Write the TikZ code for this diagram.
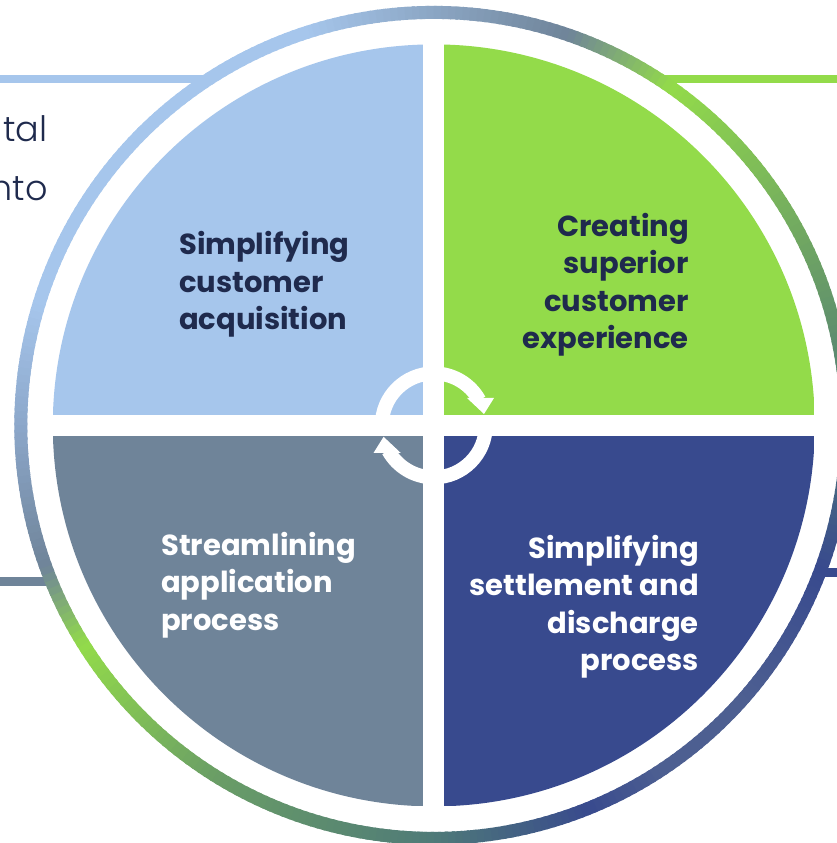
\documentclass[tikz,border=0pt]{standalone}
\usepackage{fontspec}
\setsansfont{Poppins}
\newfontfamily\lightfont{Poppins Light}
\newfontfamily\boldfont{Poppins Bold}
\definecolor{lightblue}{HTML}{A6C6EC}
\definecolor{leaf}{HTML}{93DB4A}
\definecolor{slate}{HTML}{6F8499}
\definecolor{deepblue}{HTML}{384A8E}
\definecolor{ink}{HTML}{1F2A4D}
\definecolor{moss}{HTML}{6A9E66}
\definecolor{teal}{HTML}{4F7A78}
\definecolor{dusk}{HTML}{4D5F91}
\definecolor{haze}{HTML}{8CA7CA}
\tikzset{
    quarterlabel/.style={font=\boldfont\fontsize{29}{37.5}\selectfont,inner sep=0pt},
    sidetext/.style={font=\lightfont\fontsize{35}{40}\selectfont,text=ink,inner sep=0pt},
    turnarrow/.style={white,line width=14pt}
}
\begin{document}
\begin{tikzpicture}[x=1pt,y=1pt]
    \useasboundingbox[clip] (-433.8,-417.6) rectangle (403.2,425.4);
    % rules behind the ring
    \fill[lightblue] (-433.8,342.1) rectangle (-230,350.1);
    \fill[leaf] (230,342.1) rectangle (403.2,350.1);
    \fill[slate] (-433.8,-160.3) rectangle (-385,-152);
    \fill[deepblue] (385,-151.1) rectangle (403.2,-142.6);
    % white round the ring so that the rules stop at it
    \fill[white] (0,0) circle (406.5);
    % ring, colour changes along it
    \foreach \from/\to/\colfrom/\colto in {
        108/71/lightblue/slate,71/55/slate/leaf,55/22/leaf/moss,22/0/moss/teal,
        0/-20/teal/deepblue,-20/-42/deepblue/dusk,-42/-57/dusk/dusk,-57/-68/dusk/deepblue,
        -68/-90/deepblue/teal,-90/-122/teal/moss,-122/-148/moss/leaf,-148/-160/leaf/slate,
        -160/-180/slate/haze,-180/-197/haze/lightblue,-197/-252/lightblue/lightblue}{
        \pgfmathsetmacro\span{\from-\to}
        \foreach \k in {1,...,\span}{
            \pgfmathsetmacro\mix{100*(\k-0.5)/\span}
            \pgfmathsetmacro\start{\from-\k+1}
            \draw[line width=13pt,color=\colto!\mix!\colfrom] (\start:413) arc (\start:\start-1.4:413);
        }
    }
    % quarters
    \begin{scope}
    \clip (0,0) circle (381);
    \fill[lightblue] (-381,10.4) rectangle (-10.5,381);
    \fill[leaf] (10.2,10.4) rectangle (381,381);
    \fill[slate] (-381,-10.6) rectangle (-10.5,-381);
    \fill[deepblue] (10.2,-10.6) rectangle (381,-381);
    \end{scope}
    % arrows in the middle
    \draw[turnarrow] (180:52) arc (180:29:52);
    \fill[white] (33.2,27.4) -- (60.2,27.4) -- (50.2,11.4) -- cycle;
    \draw[turnarrow] (0:52) arc (0:-151:52);
    \fill[white] (-33.2,-27.4) -- (-60.2,-27.4) -- (-50.2,-11.4) -- cycle;
    % labels
    \node[quarterlabel,text=ink,align=left,anchor=north west] (acquisition) at (-254.8,194)
        {Simplifying\\customer\\acquisition};
    \node[quarterlabel,text=ink,align=right,anchor=north east] (experience) at (255.2,212.5)
        {Creating\\superior\\customer\\experience};
    \node[quarterlabel,text=white,align=left,anchor=north west] (application) at (-272.8,-106.5)
        {Streamlining\\application\\process};
    \node[quarterlabel,text=white,align=right,anchor=north east] (settlement) at (265.2,-109.5)
        {Simplifying\\settlement and\\discharge\\process};
    % cut off text at the left
    \node[sidetext,anchor=base east] (sidetop) at (-386,283.7) {tal};
    \node[sidetext,anchor=base east] (sidebottom) at (-386,224.4) {nto};
\end{tikzpicture}
\end{document}
